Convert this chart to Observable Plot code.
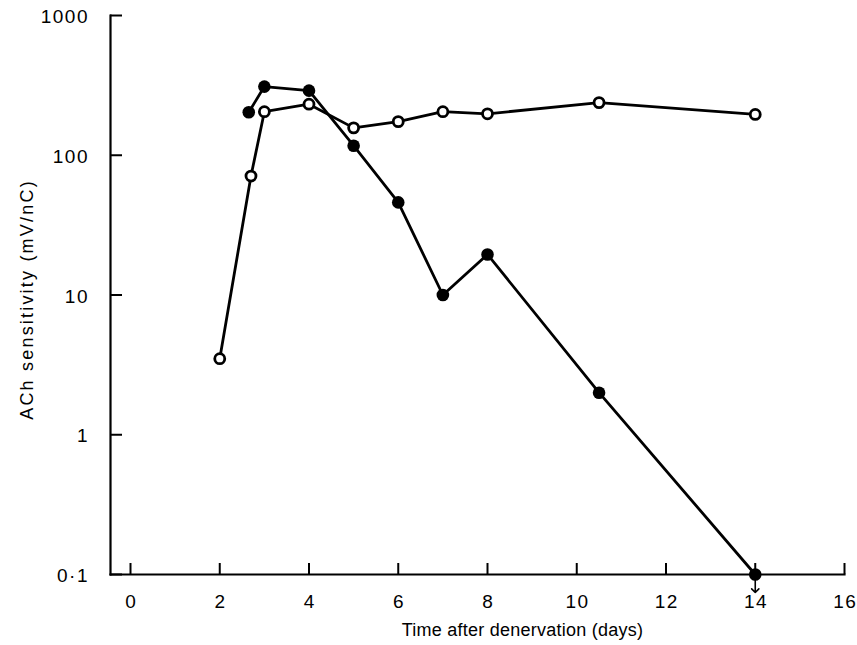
<!DOCTYPE html>
<html>
<head>
<meta charset="utf-8">
<script src="https://cdn.jsdelivr.net/npm/d3@7"></script>
<script src="https://cdn.jsdelivr.net/npm/@observablehq/plot@0.6"></script>
<style>
  html, body { margin: 0; padding: 0; background: #fff; }
</style>
</head>
<body>
<div id="chart"></div>
<script>
// Open circles series
const daysOpen = [2, 2.7, 3, 4, 5, 6, 7, 8, 10.5, 14];
const sensOpen = [3.5, 71, 205, 232, 157, 174, 205, 198, 238, 196];
// Filled circles series
const daysFilled = [2.65, 3, 4, 5, 6, 7, 8, 10.5, 14];
const sensFilled = [203, 310, 290, 117, 46, 10, 19.5, 2, 0.1];
// Axis ticks
const xTicks = [0, 2, 4, 6, 8, 10, 12, 14, 16];
const yTicks = [0.1, 1, 10, 100, 1000];
const yTickLabels = ["0·1", "1", "10", "100", "1000"];
const xLabel = "Time after denervation (days)";
const yLabel = "ACh sensitivity (mV/nC)";

const openData = daysOpen.map((d, i) => ({day: d, s: sensOpen[i]}));
const filledData = daysFilled.map((d, i) => ({day: d, s: sensFilled[i]}));
const belowData = filledData.filter(d => d.s <= 0.1);

const W = 857, H = 645, mL = 110, mR = 13, mT = 15, mB = 71;
const frameW = W - mL - mR, frameH = H - mT - mB;

const chart = Plot.plot({
  width: W, height: H,
  marginLeft: mL, marginRight: mR, marginTop: mT, marginBottom: mB,
  x: {domain: [0, 16], range: [130, 844]},
  y: {type: "log", domain: [0.1, 1000]},
  style: {fontFamily: "'Liberation Sans', Arial, sans-serif", fontSize: "18px", color: "black", background: "white"},
  marks: [
    Plot.frame({anchor: "left", stroke: "black", strokeWidth: 2.2}),
    Plot.frame({anchor: "bottom", stroke: "black", strokeWidth: 2.2}),
    Plot.tickX(xTicks, {x: d => d, insetTop: frameH - 11, stroke: "black", strokeWidth: 2}),
    Plot.tickY(yTicks, {y: d => d, insetRight: frameW - 12, stroke: "black", strokeWidth: 2}),
    Plot.axisX(xTicks, {tickSize: 0, tickPadding: 20, dx: 0.75, label: null, tickFormat: d => String(d), fontSize: 19}),
    Plot.axisY(yTicks, {tickSize: 0, tickPadding: 21.5, dy: 1.5, label: null, tickFormat: d => yTickLabels[yTicks.indexOf(d)], fontSize: 19}),
    Plot.text([xLabel], {frameAnchor: "bottom", textAnchor: "middle", lineAnchor: "middle", dx: 45, dy: 56, fontSize: 18}),
    Plot.text([yLabel], {frameAnchor: "left", textAnchor: "middle", lineAnchor: "middle", rotate: -90, dx: -83.5, dy: 4.5, fontSize: 18}),
    Plot.line(openData, {x: "day", y: "s", stroke: "black", strokeWidth: 2.8}),
    Plot.line(filledData, {x: "day", y: "s", stroke: "black", strokeWidth: 2.8}),
    Plot.vector(belowData, {x: "day", y: "s", length: 18, rotate: 180, anchor: "start", stroke: "black", strokeWidth: 1.6}),
    Plot.dot(openData, {x: "day", y: "s", r: 5, fill: "white", stroke: "black", strokeWidth: 2.8}),
    Plot.dot(filledData, {x: "day", y: "s", r: 6.3, fill: "black", stroke: "none"})
  ]
});
// Widen letter spacing to match the original typesetting
const tickTexts = new Set([...xTicks.map(String), ...yTickLabels]);
d3.select(chart).selectAll("text").each(function() {
  const t = this.textContent;
  if (t === yLabel) this.setAttribute("letter-spacing", "2.2");
  else if (t === xLabel) this.setAttribute("letter-spacing", "0.25");
  else if (tickTexts.has(t)) this.setAttribute("letter-spacing", "1.5");
});
document.getElementById("chart").appendChild(chart);
</script>
</body>
</html>
